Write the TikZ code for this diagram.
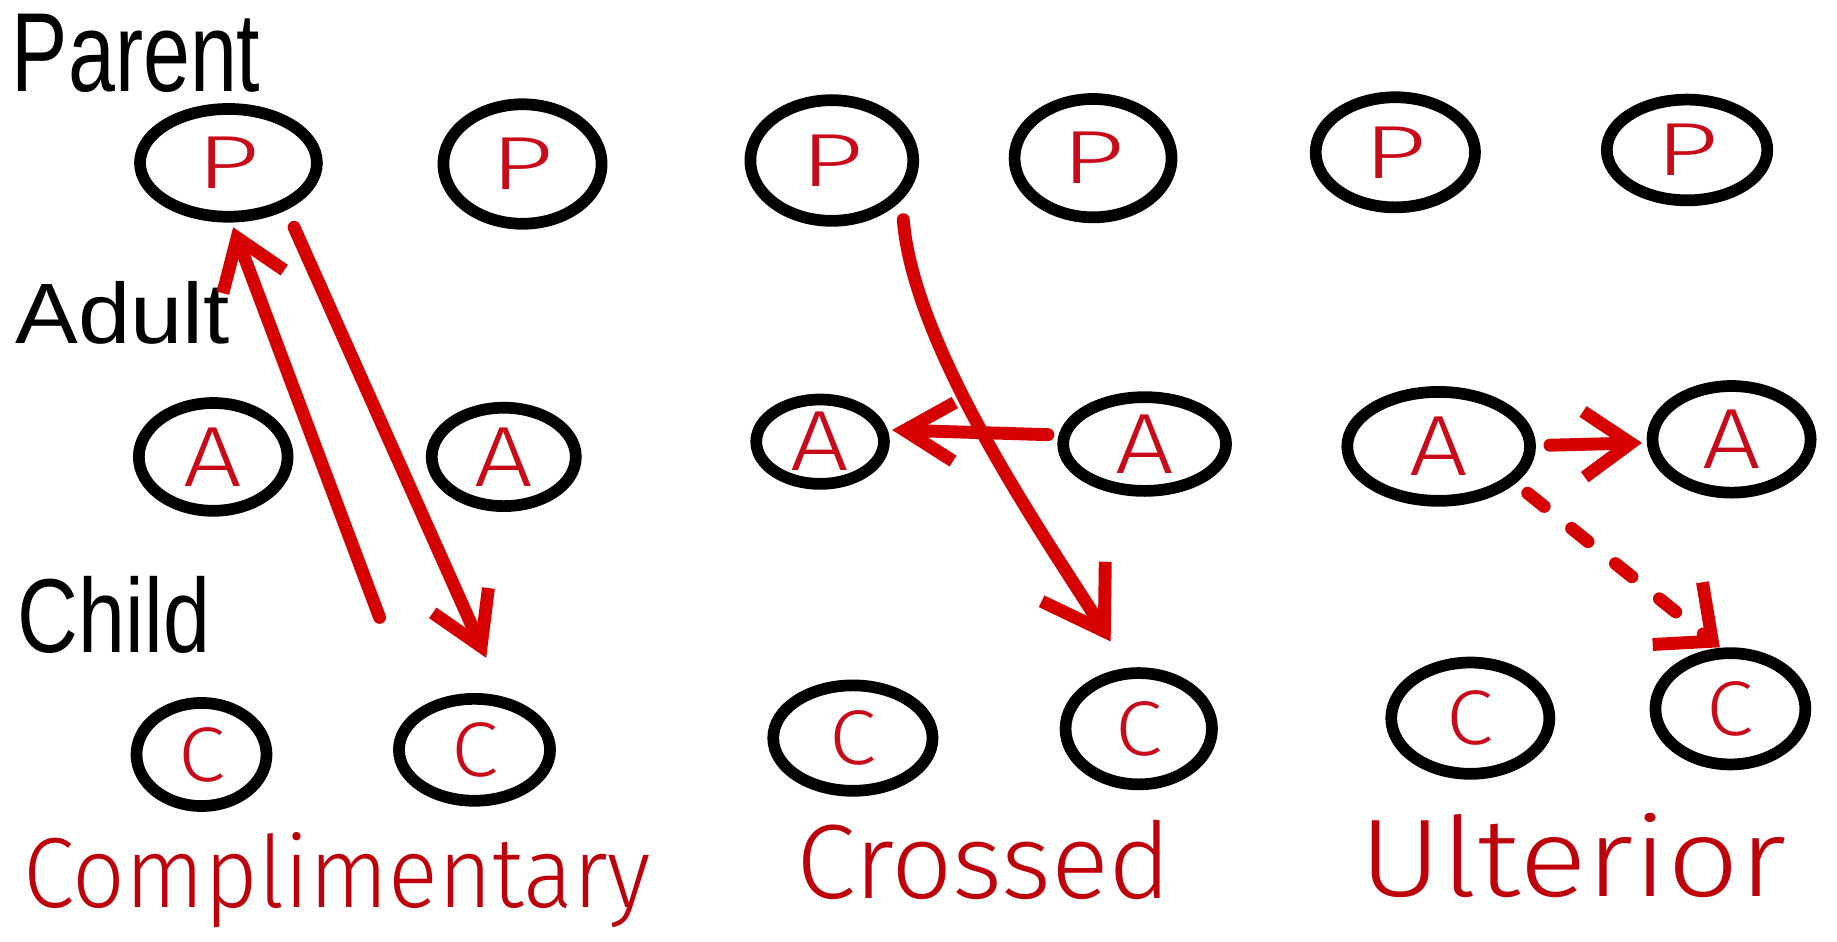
\documentclass[tikz,border=0pt]{standalone}
\usepackage{fontspec}
\setmainfont{Liberation Sans}
\IfFontExistsTF{Fira Sans Light}
  {\newfontfamily\thinfont{Fira Sans Light}}
  {\IfFontExistsTF{DejaVu Sans ExtraLight}
     {\newfontfamily\thinfont{DejaVu Sans ExtraLight}}
     {\newfontfamily\thinfont{Liberation Sans}}}
\usetikzlibrary{shapes.geometric,arrows.meta,calc}
\definecolor{inkred}{RGB}{200,10,25}
\definecolor{arrred}{RGB}{214,0,0}
\definecolor{labred}{RGB}{190,0,10}
\newcommand\lettP{\textcolor{inkred}{\resizebox{54pt}{44pt}{\thinfont P}}\hspace{24pt}}
\newcommand\lettA{\textcolor{inkred}{\resizebox{50pt}{50pt}{\thinfont A}}}
\newcommand\lettC{\textcolor{inkred}{\resizebox{40pt}{46pt}{\thinfont C}}}
\begin{document}
\begin{tikzpicture}[x=1pt,y=-1pt,
  ring/.style={ellipse,draw=black,line width=10pt,inner sep=0pt},
  lab/.style={inner sep=0pt,anchor=base west},
  arr/.style={draw=arrred,line width=11pt,line cap=round,line join=round,
    -{Straight Barb[length=40pt,width=56pt]}},
  dasharr/.style={arr,dash pattern=on 18pt off 30pt}]
\fill[white] (0,0) rectangle (1568,804);
\useasboundingbox (0,0) rectangle (1568,804);

% row labels
\node[lab] (tpar) at (10,78) {\resizebox{212pt}{66pt}{Parent}};
\node[lab] (tadu) at (13,293) {\resizebox{183pt}{53pt}{Adult}};
\node[lab] (tchi) at (15,557) {\resizebox{164pt}{65pt}{Child}};

% parent row
\node[ring,minimum width=151pt,minimum height=92pt]  (P1) at (195,139) {\lettP};
\node[ring,minimum width=135pt,minimum height=102pt] (P2) at (446,140) {\lettP};
\node[ring,minimum width=139pt,minimum height=103pt] (P3) at (710,137) {\lettP};
\node[ring,minimum width=134pt,minimum height=101pt] (P4) at (933,135) {\lettP};
\node[ring,minimum width=136pt,minimum height=94pt]  (P5) at (1191,130) {\lettP};
\node[ring,minimum width=137pt,minimum height=86pt]  (P6) at (1440,128) {\lettP};
% adult row
\node[ring,minimum width=127pt,minimum height=92pt]  (A1) at (182,390) {\lettA};
\node[ring,minimum width=123pt,minimum height=84pt]  (A2) at (430,390) {\lettA};
\node[ring,minimum width=109pt,minimum height=72pt]  (A3) at (700,377) {\lettA};
\node[ring,minimum width=139pt,minimum height=80pt]  (A4) at (977,379) {\lettA};
\node[ring,minimum width=156pt,minimum height=93pt]  (A5) at (1228,381) {\lettA};
\node[ring,minimum width=135pt,minimum height=91pt]  (A6) at (1478,375) {\lettA};
% child row
\node[ring,minimum width=111pt,minimum height=88pt]  (C1) at (172,644) {\lettC};
\node[ring,minimum width=129pt,minimum height=87pt]  (C2) at (405,640) {\lettC};
\node[ring,minimum width=136pt,minimum height=90pt]  (C3) at (728,630) {\lettC};
\node[ring,minimum width=125pt,minimum height=95pt]  (C4) at (972,622) {\lettC};
\node[ring,minimum width=135pt,minimum height=95pt]  (C5) at (1255,613) {\lettC};
\node[ring,minimum width=128pt,minimum height=95pt]  (C6) at (1477,605) {\lettC};

% complementary
\coordinate (cu) at (324,527);
\draw[arr] (cu) -- ([shift={(4,4)}]P1.south);
\draw[arr,-{Straight Barb[length=43pt,width=52pt]}] ([shift={(56,4)}]P1.south) -- ([shift={(10,-30)}]C2.north);

% crossed
\draw[arr,-{Straight Barb[length=50pt,width=64pt]}] ([shift={(61,-6)}]P3.south)
   .. controls (780,300) and (898,467) .. ([shift={(-24,-22)}]C4.north);
\draw[arr,-{Straight Barb[length=42pt,width=50pt]}] ([shift={(-8,-8)}]A4.west) -- ([shift={(2,-10)}]A3.east);

% ulterior
\draw[arr,-{Straight Barb[length=40pt,width=56pt]}] ([shift={(12,-1)}]A5.east) -- ([shift={(-4,3)}]A6.west);
\draw[dasharr,-{Straight Barb[length=38pt,width=68pt]}] ([shift={(76,40)}]A5.center) -- ([shift={(-9,0)}]C6.north);

% type labels
\node[lab] (tcom) at (20,775) {\textcolor{labred}{\resizebox{535pt}{64pt}{\thinfont Complimentary}}};
\node[lab] (tcro) at (680,767) {\textcolor{labred}{\resizebox{320pt}{67pt}{\thinfont Crossed}}};
\node[lab] (tult) at (1160,765) {\textcolor{labred}{\resizebox{365pt}{71pt}{\thinfont Ulterior}}};
\end{tikzpicture}
\end{document}
